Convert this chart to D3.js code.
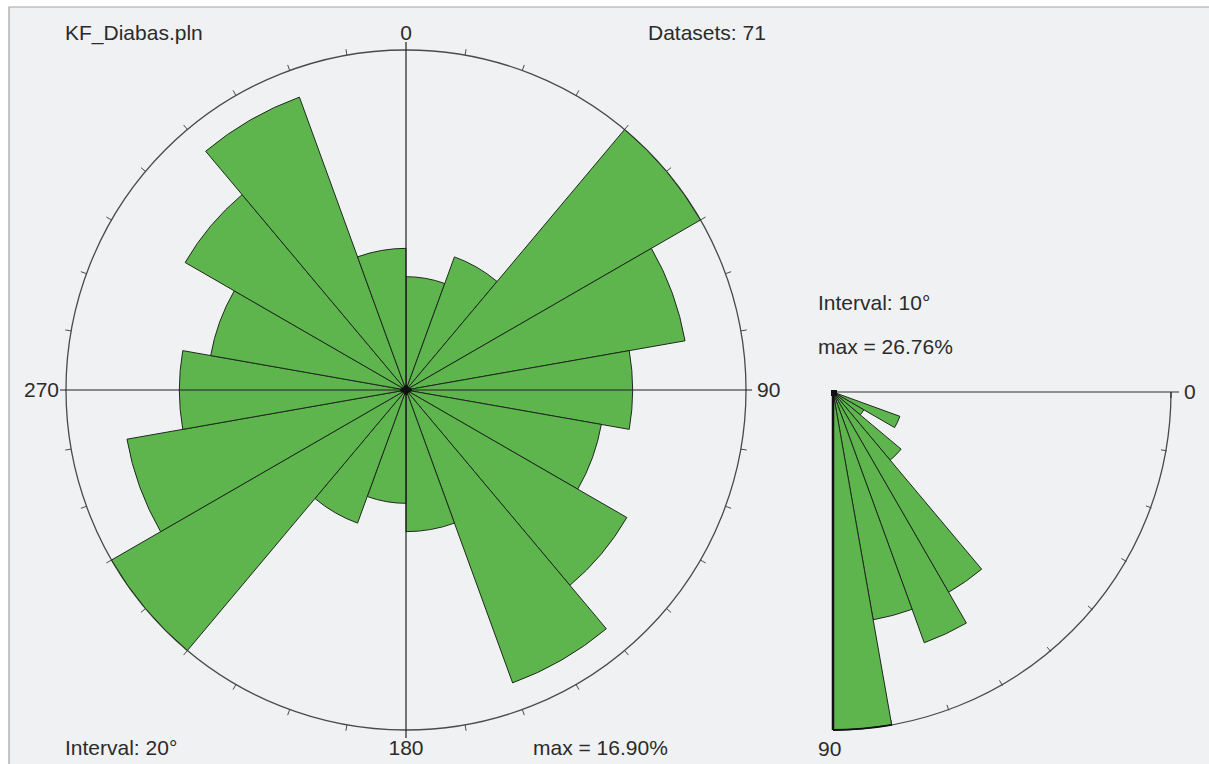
<!DOCTYPE html>
<html>
<head>
<meta charset="utf-8">
<script src="https://cdn.jsdelivr.net/npm/d3@7"></script>
<style>
  html, body { margin: 0; padding: 0; background: #fff; }
  svg { display: block; }
  text { font-family: "Liberation Sans", Arial, sans-serif; font-size: 21px; fill: #2b2b2b; }
</style>
</head>
<body>
<script>
// strike rose: 20° bins, bidirectional (71 planes)
const fileName = "KF_Diabas.pln";
const datasets = 71;
const strikeInterval = 20;
const strikeBins = [0, 20, 40, 60, 80, 100, 120, 140, 160, 180, 200, 220, 240, 260, 280, 300, 320, 340];
const strikeCounts = [4, 5, 12, 10, 8, 7, 9, 11, 5, 4, 5, 12, 10, 8, 7, 9, 11, 5];

// dip rose: 10° bins, 0..90
const dipInterval = 10;
const dipBins = [0, 10, 20, 30, 40, 50, 60, 70, 80];
const dipCounts = [0, 0, 4, 2, 5, 13, 15, 13, 19];

const strikeLabels = ["0", "90", "180", "270"];
const dipLabels = ["0", "90"];

const W = 1209, H = 764;
const green = "#5eb54e";
const rad = d => d * Math.PI / 180;
const pct = c => c / datasets * 100;

const svg = d3.select("body").append("svg").attr("width", W).attr("height", H);

// panel background + frame
svg.append("rect").attr("x", 9).attr("y", 7).attr("width", W - 9).attr("height", H - 7).attr("fill", "#f0f1f3");
svg.append("path").attr("d", `M9,${H}V7H${W}`).attr("fill", "none").attr("stroke", "#a3a3a3").attr("stroke-width", 1.2);

// ---------- strike rose ----------
const cx = 406, cy = 390, R = 340;
const strikeMax = d3.max(strikeCounts, pct);
const rS = d3.scaleLinear().domain([0, strikeMax]).range([0, R]);

const g1 = svg.append("g").attr("transform", `translate(${cx},${cy})`);

g1.append("circle").attr("r", R).attr("fill", "none").attr("stroke", "#4a4a4a").attr("stroke-width", 1.3);

// ticks every 10°
d3.range(0, 360, 10).filter(a => a % 90 !== 0).forEach(a => {
  const s = Math.sin(rad(a)), c = -Math.cos(rad(a));
  g1.append("line")
    .attr("x1", s * R).attr("y1", c * R)
    .attr("x2", s * (R + 6)).attr("y2", c * (R + 6))
    .attr("stroke", "#4a4a4a").attr("stroke-width", 1);
});

const arcS = d3.arc().innerRadius(0);
g1.selectAll("path.petal")
  .data(strikeBins.map((b, i) => ({ start: b, v: pct(strikeCounts[i]) })))
  .join("path")
  .attr("class", "petal")
  .attr("d", d => arcS({ outerRadius: rS(d.v), startAngle: rad(d.start), endAngle: rad(d.start + strikeInterval) }))
  .attr("fill", green)
  .attr("stroke", "#1e2a1c")
  .attr("stroke-width", 1)
  .attr("stroke-linejoin", "round");

// cross axes
g1.append("line").attr("x1", 0).attr("x2", 0).attr("y1", -R - 8).attr("y2", R + 8).attr("stroke", "#222").attr("stroke-width", 1.2);
g1.append("line").attr("x1", -R - 6).attr("x2", R + 6).attr("y1", 0).attr("y2", 0).attr("stroke", "#222").attr("stroke-width", 1.2);
g1.append("ellipse").attr("rx", 6).attr("ry", 3).attr("fill", "#111");
g1.append("ellipse").attr("rx", 2.5).attr("ry", 5).attr("fill", "#111");

g1.append("text").attr("x", 0).attr("y", -R - 10).attr("text-anchor", "middle").text(strikeLabels[0]);
g1.append("text").attr("x", R + 11).attr("y", 7).text(strikeLabels[1]);
g1.append("text").attr("x", 0).attr("y", R + 25).attr("text-anchor", "middle").text(strikeLabels[2]);
g1.append("text").attr("x", -R - 7).attr("y", 7).attr("text-anchor", "end").text(strikeLabels[3]);

svg.append("text").attr("x", 65).attr("y", 40).text(fileName);
svg.append("text").attr("x", 648).attr("y", 40).text(`Datasets: ${datasets}`);
svg.append("text").attr("x", 65).attr("y", 755).text(`Interval: ${strikeInterval}°`);
svg.append("text").attr("x", 533).attr("y", 755).text(`max = ${strikeMax.toFixed(2)}%`);

// ---------- dip rose (quarter) ----------
const qx = 833, qy = 392, QR = 338;
const dipMax = d3.max(dipCounts, pct);
const rD = d3.scaleLinear().domain([0, dipMax]).range([0, QR]);
const g2 = svg.append("g").attr("transform", `translate(${qx},${qy})`);

// dip 0 = east, 90 = south  -> d3 angle = 90 + dip
const arcD = d3.arc().innerRadius(0);
g2.append("path")
  .attr("d", d3.arc().innerRadius(QR).outerRadius(QR)({ startAngle: rad(90), endAngle: rad(180) }))
  .attr("fill", "none").attr("stroke", "#4a4a4a").attr("stroke-width", 1.3);

d3.range(10, 90, 10).forEach(a => {
  const t = rad(a), s = Math.cos(t), c = Math.sin(t);
  g2.append("line")
    .attr("x1", s * (QR - 5)).attr("y1", c * (QR - 5))
    .attr("x2", s * (QR + 1)).attr("y2", c * (QR + 1))
    .attr("stroke", "#4a4a4a").attr("stroke-width", 1);
});

g2.selectAll("path.petal")
  .data(dipBins.map((b, i) => ({ start: b, v: pct(dipCounts[i]) })).filter(d => d.v > 0))
  .join("path")
  .attr("class", "petal")
  .attr("d", d => arcD({ outerRadius: rD(d.v), startAngle: rad(90 + d.start), endAngle: rad(90 + d.start + dipInterval) }))
  .attr("fill", green)
  .attr("stroke", "#1e2a1c")
  .attr("stroke-width", 1)
  .attr("stroke-linejoin", "round");

g2.append("line").attr("x1", 0).attr("x2", QR + 8).attr("y1", 0).attr("y2", 0).attr("stroke", "#333").attr("stroke-width", 1.2);
g2.append("line").attr("x1", QR).attr("x2", QR).attr("y1", 0).attr("y2", 6).attr("stroke", "#333").attr("stroke-width", 1.2);
g2.append("line").attr("x1", 0).attr("x2", 0).attr("y1", 0).attr("y2", QR).attr("stroke", "#111").attr("stroke-width", 2.5);
g2.append("path")
  .attr("d", d3.arc().innerRadius(QR).outerRadius(QR)({ startAngle: rad(180 - 10), endAngle: rad(180) }))
  .attr("fill", "none").attr("stroke", "#111").attr("stroke-width", 2);
g2.append("rect").attr("x", -2).attr("y", -2).attr("width", 6).attr("height", 6).attr("fill", "#111");

g2.append("text").attr("x", QR + 13).attr("y", 7).text(dipLabels[0]);
g2.append("text").attr("x", -15).attr("y", QR + 26).text(dipLabels[1]);

svg.append("text").attr("x", 818).attr("y", 310).text(`Interval: ${dipInterval}°`);
svg.append("text").attr("x", 818).attr("y", 354).text(`max = ${dipMax.toFixed(2)}%`);
</script>
</body>
</html>
